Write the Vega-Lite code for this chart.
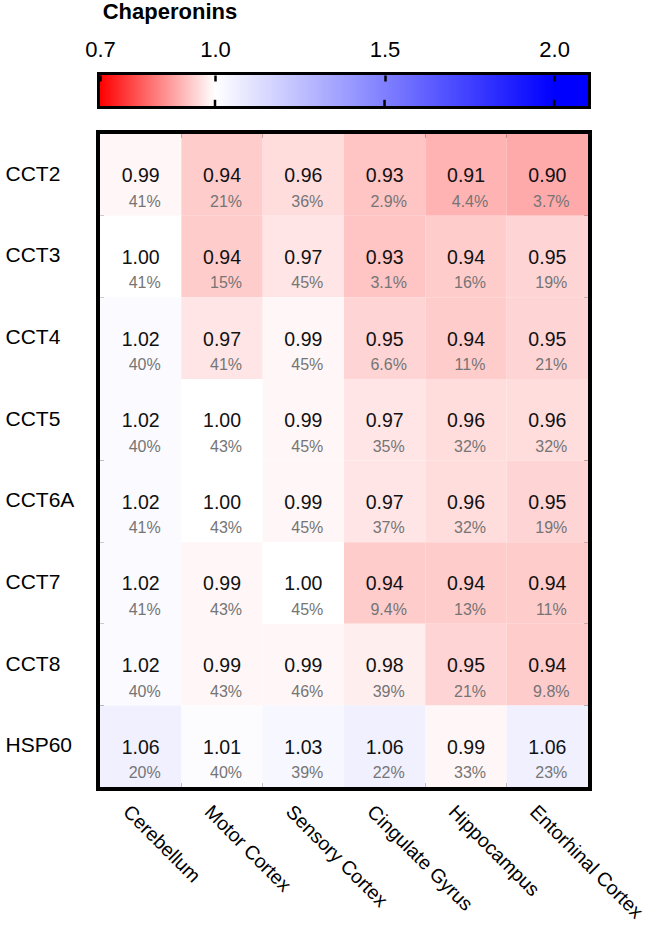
{
  "$schema": "https://vega.github.io/schema/vega-lite/v6.json",
  "padding": {"left": 1, "top": -2, "right": 0, "bottom": 0},
  "background": "white",
  "config": {"font": "Liberation Sans", "view": {"stroke": null}},
  "spacing": 19,
  "vconcat": [
    {
      "width": 488,
      "height": 31,
      "view": {"stroke": "black", "strokeWidth": 6},
      "title": {"text": "Chaperonins", "anchor": "start", "fontSize": 22, "fontWeight": "bold", "color": "black", "offset": 14, "dx": 18},
      "layer": [
        {
          "data": {"values": [{"lo": 0.7, "hi": 2.1}]},
          "mark": {
            "type": "rect",
            "fill": {
              "gradient": "linear", "x1": 0, "y1": 0, "x2": 1, "y2": 0,
              "stops": [
                {"offset": 0, "color": "#ff0000"},
                {"offset": 0.2357, "color": "#ffffff"},
                {"offset": 0.9305, "color": "#0000ff"},
                {"offset": 1, "color": "#0000ff"}
              ]
            }
          },
          "encoding": {
            "x": {
              "field": "lo", "type": "quantitative",
              "scale": {"domain": [0.7, 1.0, 2.1], "range": [0, 115, 488], "nice": false, "zero": false},
              "axis": {"orient": "top", "values": [0.7, 1, 1.5, 2], "format": ".1f", "labelFontSize": 22, "labelColor": "black", "tickSize": -6, "tickWidth": 2.5, "tickColor": "black", "domain": false, "grid": false, "title": null, "labelPadding": 20, "zindex": 1, "labelFlush": false}
            },
            "x2": {"field": "hi"}
          }
        },
        {
          "data": {"values": [{"v": 1.0}, {"v": 1.5}, {"v": 2.0}]},
          "mark": {"type": "rule", "color": "black", "strokeWidth": 2.5},
          "encoding": {
            "x": {"field": "v", "type": "quantitative"},
            "y": {"datum": 0, "type": "quantitative", "scale": {"domain": [0, 1], "nice": false}, "axis": null},
            "y2": {"datum": 0.2}
          }
        }
      ]
    },
    {
      "width": 488,
      "height": 653,
      "view": {"stroke": "black", "strokeWidth": 8},
      "data": {"values": [
        {"protein": "CCT2", "region": "Cerebellum", "fold": 0.99, "pct": "41%"},
        {"protein": "CCT2", "region": "Motor Cortex", "fold": 0.94, "pct": "21%"},
        {"protein": "CCT2", "region": "Sensory Cortex", "fold": 0.96, "pct": "36%"},
        {"protein": "CCT2", "region": "Cingulate Gyrus", "fold": 0.93, "pct": "2.9%"},
        {"protein": "CCT2", "region": "Hippocampus", "fold": 0.91, "pct": "4.4%"},
        {"protein": "CCT2", "region": "Entorhinal Cortex", "fold": 0.90, "pct": "3.7%"},
        {"protein": "CCT3", "region": "Cerebellum", "fold": 1.00, "pct": "41%"},
        {"protein": "CCT3", "region": "Motor Cortex", "fold": 0.94, "pct": "15%"},
        {"protein": "CCT3", "region": "Sensory Cortex", "fold": 0.97, "pct": "45%"},
        {"protein": "CCT3", "region": "Cingulate Gyrus", "fold": 0.93, "pct": "3.1%"},
        {"protein": "CCT3", "region": "Hippocampus", "fold": 0.94, "pct": "16%"},
        {"protein": "CCT3", "region": "Entorhinal Cortex", "fold": 0.95, "pct": "19%"},
        {"protein": "CCT4", "region": "Cerebellum", "fold": 1.02, "pct": "40%"},
        {"protein": "CCT4", "region": "Motor Cortex", "fold": 0.97, "pct": "41%"},
        {"protein": "CCT4", "region": "Sensory Cortex", "fold": 0.99, "pct": "45%"},
        {"protein": "CCT4", "region": "Cingulate Gyrus", "fold": 0.95, "pct": "6.6%"},
        {"protein": "CCT4", "region": "Hippocampus", "fold": 0.94, "pct": "11%"},
        {"protein": "CCT4", "region": "Entorhinal Cortex", "fold": 0.95, "pct": "21%"},
        {"protein": "CCT5", "region": "Cerebellum", "fold": 1.02, "pct": "40%"},
        {"protein": "CCT5", "region": "Motor Cortex", "fold": 1.00, "pct": "43%"},
        {"protein": "CCT5", "region": "Sensory Cortex", "fold": 0.99, "pct": "45%"},
        {"protein": "CCT5", "region": "Cingulate Gyrus", "fold": 0.97, "pct": "35%"},
        {"protein": "CCT5", "region": "Hippocampus", "fold": 0.96, "pct": "32%"},
        {"protein": "CCT5", "region": "Entorhinal Cortex", "fold": 0.96, "pct": "32%"},
        {"protein": "CCT6A", "region": "Cerebellum", "fold": 1.02, "pct": "41%"},
        {"protein": "CCT6A", "region": "Motor Cortex", "fold": 1.00, "pct": "43%"},
        {"protein": "CCT6A", "region": "Sensory Cortex", "fold": 0.99, "pct": "45%"},
        {"protein": "CCT6A", "region": "Cingulate Gyrus", "fold": 0.97, "pct": "37%"},
        {"protein": "CCT6A", "region": "Hippocampus", "fold": 0.96, "pct": "32%"},
        {"protein": "CCT6A", "region": "Entorhinal Cortex", "fold": 0.95, "pct": "19%"},
        {"protein": "CCT7", "region": "Cerebellum", "fold": 1.02, "pct": "41%"},
        {"protein": "CCT7", "region": "Motor Cortex", "fold": 0.99, "pct": "43%"},
        {"protein": "CCT7", "region": "Sensory Cortex", "fold": 1.00, "pct": "45%"},
        {"protein": "CCT7", "region": "Cingulate Gyrus", "fold": 0.94, "pct": "9.4%"},
        {"protein": "CCT7", "region": "Hippocampus", "fold": 0.94, "pct": "13%"},
        {"protein": "CCT7", "region": "Entorhinal Cortex", "fold": 0.94, "pct": "11%"},
        {"protein": "CCT8", "region": "Cerebellum", "fold": 1.02, "pct": "40%"},
        {"protein": "CCT8", "region": "Motor Cortex", "fold": 0.99, "pct": "43%"},
        {"protein": "CCT8", "region": "Sensory Cortex", "fold": 0.99, "pct": "46%"},
        {"protein": "CCT8", "region": "Cingulate Gyrus", "fold": 0.98, "pct": "39%"},
        {"protein": "CCT8", "region": "Hippocampus", "fold": 0.95, "pct": "21%"},
        {"protein": "CCT8", "region": "Entorhinal Cortex", "fold": 0.94, "pct": "9.8%"},
        {"protein": "HSP60", "region": "Cerebellum", "fold": 1.06, "pct": "20%"},
        {"protein": "HSP60", "region": "Motor Cortex", "fold": 1.01, "pct": "40%"},
        {"protein": "HSP60", "region": "Sensory Cortex", "fold": 1.03, "pct": "39%"},
        {"protein": "HSP60", "region": "Cingulate Gyrus", "fold": 1.06, "pct": "22%"},
        {"protein": "HSP60", "region": "Hippocampus", "fold": 0.99, "pct": "33%"},
        {"protein": "HSP60", "region": "Entorhinal Cortex", "fold": 1.06, "pct": "23%"}
      ]},
      "encoding": {
        "x": {
          "field": "region", "type": "nominal",
          "sort": ["Cerebellum", "Motor Cortex", "Sensory Cortex", "Cingulate Gyrus", "Hippocampus", "Entorhinal Cortex"],
          "scale": {"paddingInner": 0, "paddingOuter": 0},
          "axis": {"orient": "bottom", "title": null, "ticks": false, "domain": false, "labelAngle": 45, "labelAlign": "left", "labelBaseline": "top", "labelFontSize": 19.5, "labelColor": "black", "labelPadding": 15, "labelOffset": -8}
        },
        "y": {
          "field": "protein", "type": "nominal",
          "sort": ["CCT2", "CCT3", "CCT4", "CCT5", "CCT6A", "CCT7", "CCT8", "HSP60"],
          "scale": {"paddingInner": 0, "paddingOuter": 0},
          "axis": {"title": null, "ticks": false, "domain": false, "labelAlign": "left", "labelBaseline": "middle", "labelFontSize": 21, "labelColor": "black", "labelPadding": 95}
        }
      },
      "layer": [
        {
          "mark": {"type": "rect"},
          "encoding": {
            "color": {"field": "fold", "type": "quantitative", "scale": {"domain": [0.7, 1, 2], "range": ["#ff0000", "#ffffff", "#0000ff"], "interpolate": "rgb"}, "legend": null}
          }
        },
        {
          "mark": {"type": "text", "fontSize": 19.5, "color": "#111111", "baseline": "middle", "dy": 1.5},
          "encoding": {"text": {"field": "fold", "type": "quantitative", "format": ".2f"}}
        },
        {
          "mark": {"type": "text", "fontSize": 16, "color": "#757575", "baseline": "middle", "dy": 27, "dx": 4},
          "encoding": {"text": {"field": "pct", "type": "nominal"}}
        }
      ]
    }
  ]
}
